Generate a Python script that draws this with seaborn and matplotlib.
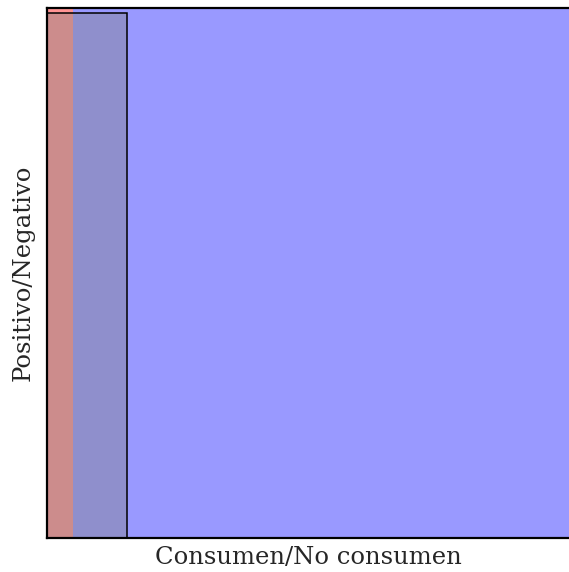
import matplotlib
matplotlib.use("Agg")
import matplotlib.pyplot as plt
import seaborn as sns

# proporciones del gráfico (ancho en x, alto en y)
grupos = ["Consumen", "No consumen", "Positivo"]
x_inicio = [0.0, 0.05, 0.0]
anchos = [0.05, 0.95, 0.153]
altos = [1.0, 1.0, 0.99]
colores = ["red", "blue", "gray"]
alfas = [0.42, 0.4, 0.4]
bordes = ["none", "none", "black"]

sns.set_style("white")
plt.rcParams["font.family"] = ["DejaVu Serif"]

fig = plt.figure(figsize=(5.69, 5.72), dpi=100)
ax = fig.add_axes([47 / 569, 1 - 538 / 572, 1 - 47 / 569 + 0.002, (538 - 8) / 572])

for x0, w, h, c, a, e in zip(x_inicio, anchos, altos, colores, alfas, bordes):
    ax.bar(x0, h, width=w, align="edge", color=c, alpha=a, edgecolor="none", linewidth=0)
    if e != "none":
        ax.bar(x0, h, width=w, align="edge", fill=False, edgecolor=e, linewidth=1.1)

ax.set_xlim(0, 1)
ax.set_ylim(0, 1)
ax.set_xticks([])
ax.set_yticks([])
for s in ax.spines.values():
    s.set_color("black")
    s.set_linewidth(1.6)

ax.set_xlabel("Consumen/No consumen", fontsize=17.5, labelpad=6)
ax.set_ylabel("Positivo/Negativo", fontsize=17.5, labelpad=9)

fig.savefig("out.png", dpi=100)
